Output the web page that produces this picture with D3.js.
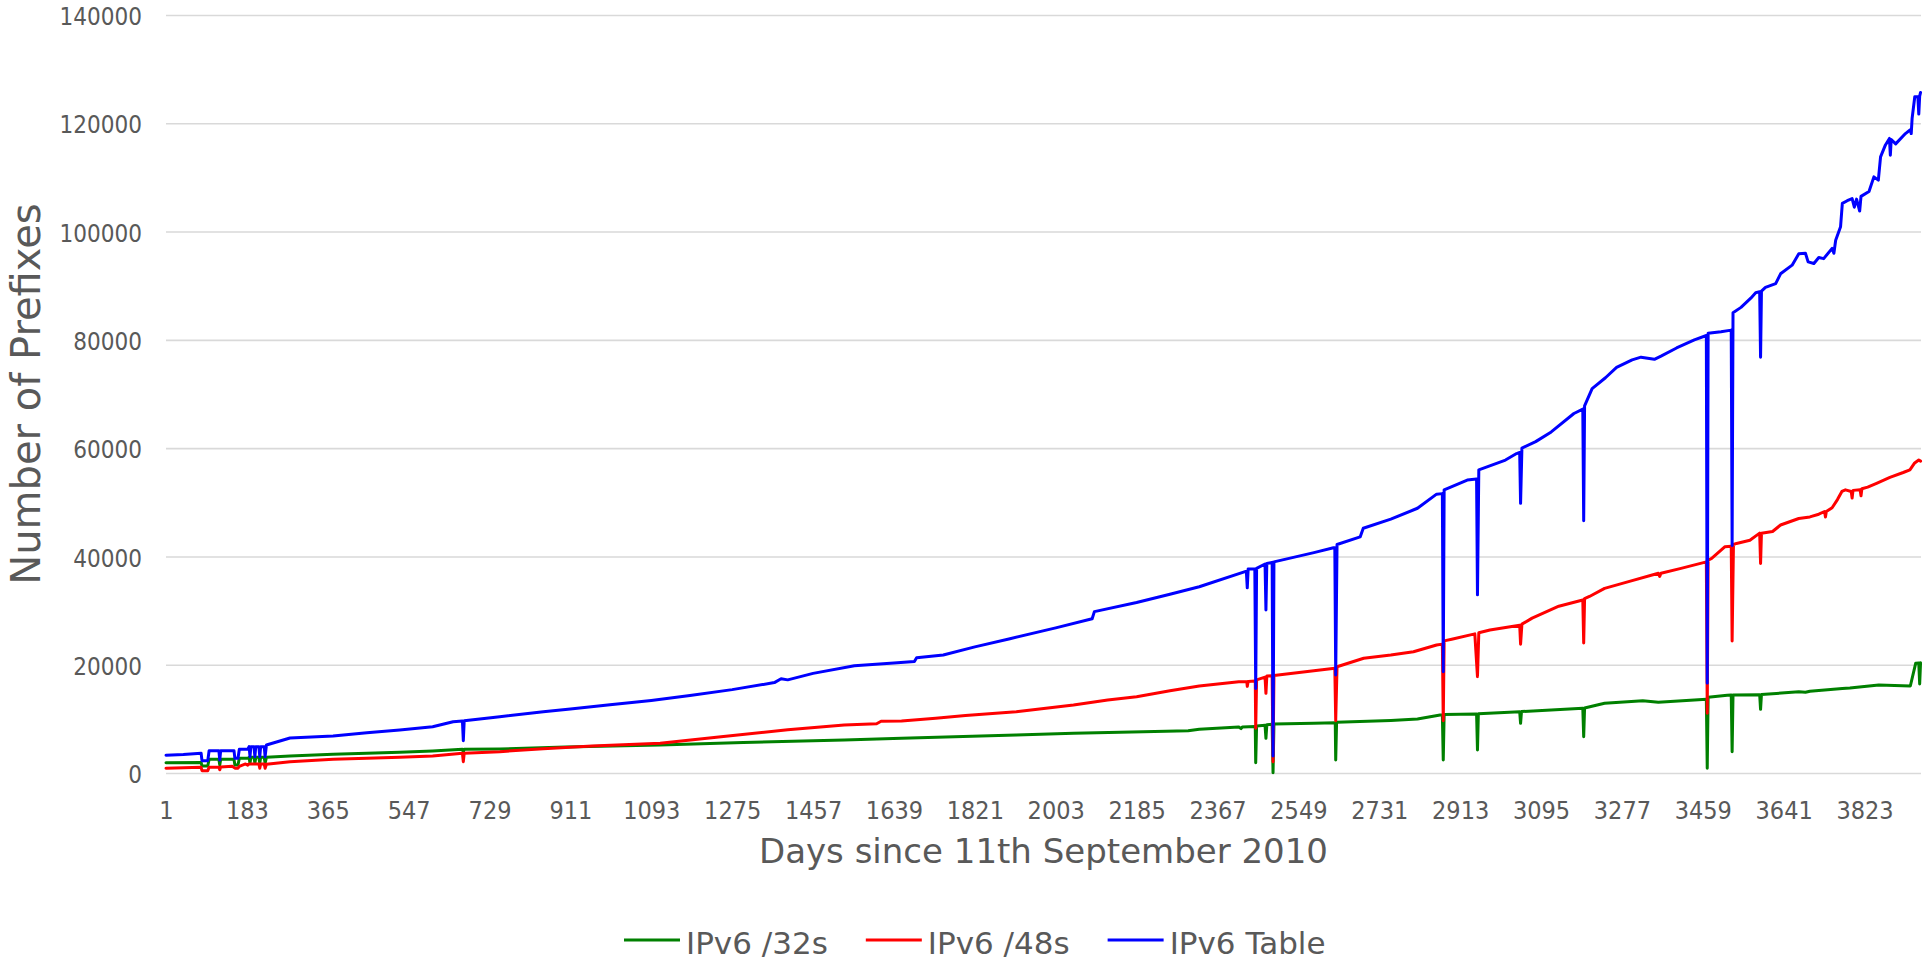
<!DOCTYPE html>
<html>
<head>
<meta charset="utf-8">
<script src="https://cdn.jsdelivr.net/npm/d3@7"></script>
<style>
  body { margin: 0; background: #fff; }
</style>
</head>
<body>
<div id="chart"></div>
<script>
// category labels shown on the x axis (days)
const X_TICKS = [1, 183, 365, 547, 729, 911, 1093, 1275, 1457, 1639, 1821, 2003, 2185, 2367, 2549, 2731, 2913, 3095, 3277, 3459, 3641, 3823];
const Y_TICKS = [0, 20000, 40000, 60000, 80000, 100000, 120000, 140000];
const LAST_DAY = 3950;

const SERIES_NAMES = ['IPv6 /32s', 'IPv6 /48s', 'IPv6 Table'];
const SERIES_COLORS = ['#008000', '#ff0000', '#0000ff'];

// [day, prefixes], dips included
const ipv6_32s = [[1,1900],[80,1950],[82,1290],[95,1290],[98,2530],[120,2530],[122,1470],[124,2530],[154,2530],[156,1470],[163,1470],[166,2710],[186,2750],[188,2900],[190,1790],[192,2900],[199,2900],[201,1790],[203,2900],[210,2900],[212,1790],[214,2900],[222,2900],[224,1790],[227,2900],
  [280,3140],[377,3450],[453,3640],[527,3820],[601,4060],[668,4370],[670,3900],[672,4370],[752,4430],[900,4800],[1113,5170],[1300,5650],[1527,6100],[1656,6400],[1914,7000],[2043,7330],
  [2200,7600],[2301,7820],[2326,8070],[2415,8500],[2420,8200],[2423,8500],[2452,8600],[2453,1900],[2455,8700],[2474,8800],[2476,6400],[2478,8900],[2490,9000],[2492,60],[2494,9050],
  [2584,9200],[2632,9300],[2633,2400],[2635,9360],[2757,9700],[2817,9970],[2868,10700],[2873,10700],[2875,2400],[2877,10800],[2950,10900],[2952,4250],[2954,10950],
  [3047,11330],[3049,9180],[3051,11350],[3189,11950],[3191,6700],[3193,12000],[3238,12870],[3324,13360],[3359,13050],[3440,13500],[3467,13610],[3469,870],[3471,13980],
  [3514,14350],[3523,14400],[3525,3940],[3527,14400],[3587,14450],[3589,11760],[3591,14500],[3675,15000],[3690,14900],[3700,15100],[3773,15600],[3790,15700],[3855,16250],
  [3926,16070],[3938,20260],[3945,20300],[3947,16440],[3949,20370]];

const ipv6_48s = [[1,870],[80,1050],[82,430],[95,430],[98,1050],[120,1050],[122,600],[124,1100],[150,1240],[156,900],[163,900],[166,1240],[180,1670],[185,1450],[188,1670],[210,1670],[212,870],[214,1670],[222,1670],[224,870],[227,1600],
  [280,2090],[377,2530],[453,2710],[527,2900],[601,3140],[668,3640],[670,2090],[672,3640],[752,3940],[850,4500],[960,5000],[1113,5480],[1250,6700],[1400,8000],[1527,8870],
  [1600,9100],[1610,9550],[1656,9600],[1733,10100],[1800,10600],[1914,11300],[2043,12560],[2120,13500],[2185,14100],[2260,15200],[2326,16070],[2415,16870],[2433,16870],[2434,16000],[2436,16900],
  [2452,17000],[2453,8250],[2455,17200],[2474,17700],[2476,14720],[2478,17900],[2490,17950],[2492,2090],[2494,18000],[2631,19340],[2633,9660],[2636,19630],[2696,21200],[2757,21800],
  [2808,22400],[2860,23640],[2873,23800],[2875,9660],[2877,24400],[2894,24700],[2946,25700],[2952,17800],[2955,25900],[2980,26400],[3047,27300],[3049,23800],[3052,27500],[3075,28600],
  [3135,30800],[3189,31950],[3191,24000],[3193,32200],[3204,32600],[3238,34100],[3290,35300],[3359,36900],[3362,36300],[3365,36900],[3410,37800],[3467,39000],[3469,11030],[3471,39300],
  [3479,39650],[3509,41800],[3523,41900],[3525,24400],[3528,42200],[3535,42400],[3565,43000],[3587,44300],[3589,38700],[3591,44300],[3616,44600],[3634,45800],[3675,47000],[3700,47300],
  [3720,47800],[3733,48300],[3735,47300],[3737,48300],[3750,49000],[3762,50500],[3772,52000],[3780,52300],[3793,52000],[3795,50800],[3797,52200],[3813,52300],[3815,51200],[3817,52500],
  [3830,52800],[3850,53500],[3880,54600],[3910,55500],[3925,56000],[3935,57200],[3945,57800],[3949,57600]];

const ipv6_table = [[1,3270],[40,3400],[80,3640],[82,2280],[95,2280],[98,4120],[120,4120],[122,2400],[124,4120],[154,4120],[156,2710],[163,2710],[166,4370],[185,4400],[188,4860],[190,3020],[192,4860],[199,4860],[201,3020],[203,4860],[210,4860],[212,3020],[214,4860],[222,4860],[224,3020],[227,5170],
  [280,6460],[377,6830],[453,7450],[527,7940],[601,8550],[647,9480],[668,9600],[670,5970],[672,9660],[752,10400],[850,11300],[911,11800],[1000,12600],[1093,13400],[1180,14300],[1275,15400],
  [1370,16700],[1385,17400],[1400,17200],[1457,18400],[1550,19800],[1639,20300],[1685,20600],[1690,21300],[1750,21800],[1821,23300],[1900,24800],[2003,26800],[2085,28500],[2090,29800],
  [2185,31500],[2260,33000],[2326,34400],[2429,37200],[2432,37200],[2434,34200],[2436,37700],[2451,37700],[2453,15600],[2455,37800],[2474,38600],[2476,30100],[2478,38700],[2490,38900],[2492,3140],[2494,39000],
  [2584,40700],[2628,41600],[2631,41600],[2633,18100],[2636,42200],[2688,43600],[2695,45200],[2757,46900],[2817,48900],[2860,51500],[2873,51600],[2875,18700],[2877,52300],[2929,54100],[2950,54300],[2952,32900],[2955,56000],
  [3015,57800],[3040,59000],[3047,59200],[3049,49800],[3052,60000],[3083,61200],[3118,63000],[3169,66400],[3189,67200],[3191,46600],[3193,67800],[3210,71000],[3240,73000],[3265,74900],
  [3300,76300],[3320,76800],[3350,76400],[3365,77000],[3400,78500],[3440,80000],[3467,80800],[3469,16600],[3471,81200],[3500,81500],[3523,81800],[3525,42000],[3527,85000],[3545,86000],
  [3567,87700],[3578,88700],[3587,88900],[3589,76800],[3591,89000],[3600,89700],[3623,90400],[3634,92200],[3660,93800],[3675,95900],[3690,96000],[3696,94400],[3709,94100],[3720,95200],
  [3731,95000],[3750,96900],[3754,96000],[3758,98400],[3769,100900],[3773,105200],[3784,105700],[3795,106100],[3800,104500],[3805,106000],[3812,103800],[3815,106500],[3833,107400],
  [3844,110100],[3854,109500],[3859,113800],[3870,116000],[3879,117200],[3881,114100],[3883,117000],[3893,116200],[3915,118100],[3926,118800],[3928,118100],[3930,120900],[3936,124900],
  [3943,124900],[3945,121700],[3947,125000],[3949,125700]];

const SERIES = [ipv6_32s, ipv6_48s, ipv6_table];

// frame constants
const FRAME_HEIGHT = 965;
const FRAME_WIDTH = 1923;
const MARGINS = {left: 166, right: 2, top: 15, bottom: 192};
const VIS_HEIGHT = FRAME_HEIGHT - MARGINS.top - MARGINS.bottom;
const VIS_WIDTH = FRAME_WIDTH - MARGINS.left - MARGINS.right;

const TICK_FONT = "'DejaVu Sans Condensed', 'DejaVu Sans', sans-serif";
const TEXT_FONT = "'DejaVu Sans', sans-serif";
const TEXT_COLOR = '#595959';

const FRAME = d3.select('#chart')
  .append('svg')
  .attr('width', FRAME_WIDTH)
  .attr('height', FRAME_HEIGHT)
  .style('display', 'block');

// scales
const X_SCALE = d3.scaleLinear()
  .domain([1, LAST_DAY])
  .range([MARGINS.left, FRAME_WIDTH - MARGINS.right]);
const Y_SCALE = d3.scaleLinear()
  .domain([0, 140000])
  .range([MARGINS.top + VIS_HEIGHT, MARGINS.top]);

// y axis with gridlines
const yAxis = FRAME.append('g')
  .attr('transform', `translate(${MARGINS.left},0)`)
  .call(d3.axisLeft(Y_SCALE).tickValues(Y_TICKS).tickSize(-VIS_WIDTH).tickPadding(24).tickFormat(d3.format('d')));
yAxis.select('.domain').remove();
yAxis.selectAll('line').attr('stroke', '#d9d9d9').attr('stroke-width', 1.6);
yAxis.selectAll('text')
  .attr('dy', '0.4em')
  .style('font-family', TICK_FONT)
  .style('font-stretch', 'condensed')
  .style('font-size', '24px')
  .attr('fill', TEXT_COLOR);

// x axis, labels only
const xAxis = FRAME.append('g')
  .attr('transform', `translate(0,${MARGINS.top + VIS_HEIGHT})`)
  .call(d3.axisBottom(X_SCALE).tickValues(X_TICKS).tickSize(0).tickPadding(28).tickFormat(d3.format('d')));
xAxis.select('.domain').remove();
xAxis.selectAll('text')
  .style('font-family', TICK_FONT)
  .style('font-stretch', 'condensed')
  .style('font-size', '25px')
  .attr('fill', TEXT_COLOR);

// the three series, green first so blue sits on top
const line = d3.line()
  .x(d => X_SCALE(d[0]))
  .y(d => Y_SCALE(d[1]));

FRAME.append('g')
  .selectAll('path')
  .data(SERIES)
  .join('path')
  .attr('d', line)
  .attr('fill', 'none')
  .attr('stroke', (d, i) => SERIES_COLORS[i])
  .attr('stroke-width', 3)
  .attr('stroke-linejoin', 'round')
  .attr('stroke-linecap', 'round');

// axis titles
FRAME.append('text')
  .attr('x', (MARGINS.left + FRAME_WIDTH - MARGINS.right) / 2)
  .attr('y', 863)
  .attr('text-anchor', 'middle')
  .style('font-family', TEXT_FONT)
  .style('font-size', '34px')
  .attr('fill', TEXT_COLOR)
  .text('Days since 11th September 2010');

FRAME.append('text')
  .attr('transform', 'translate(40,394) rotate(-90)')
  .attr('text-anchor', 'middle')
  .style('font-family', TEXT_FONT)
  .style('font-size', '40px')
  .attr('fill', TEXT_COLOR)
  .text('Number of Prefixes');

// legend
const LEGEND = FRAME.append('g');
let legendX = 624;
SERIES_NAMES.forEach(function (name, i) {
  LEGEND.append('line')
    .attr('x1', legendX).attr('x2', legendX + 56)
    .attr('y1', 940).attr('y2', 940)
    .attr('stroke', SERIES_COLORS[i])
    .attr('stroke-width', 3);
  const label = LEGEND.append('text')
    .attr('x', legendX + 62)
    .attr('y', 954)
    .style('font-family', TEXT_FONT)
    .style('font-size', '31px')
    .attr('fill', TEXT_COLOR)
    .text(name);
  legendX += 62 + label.node().getComputedTextLength() + 38;
});
</script>
</body>
</html>
